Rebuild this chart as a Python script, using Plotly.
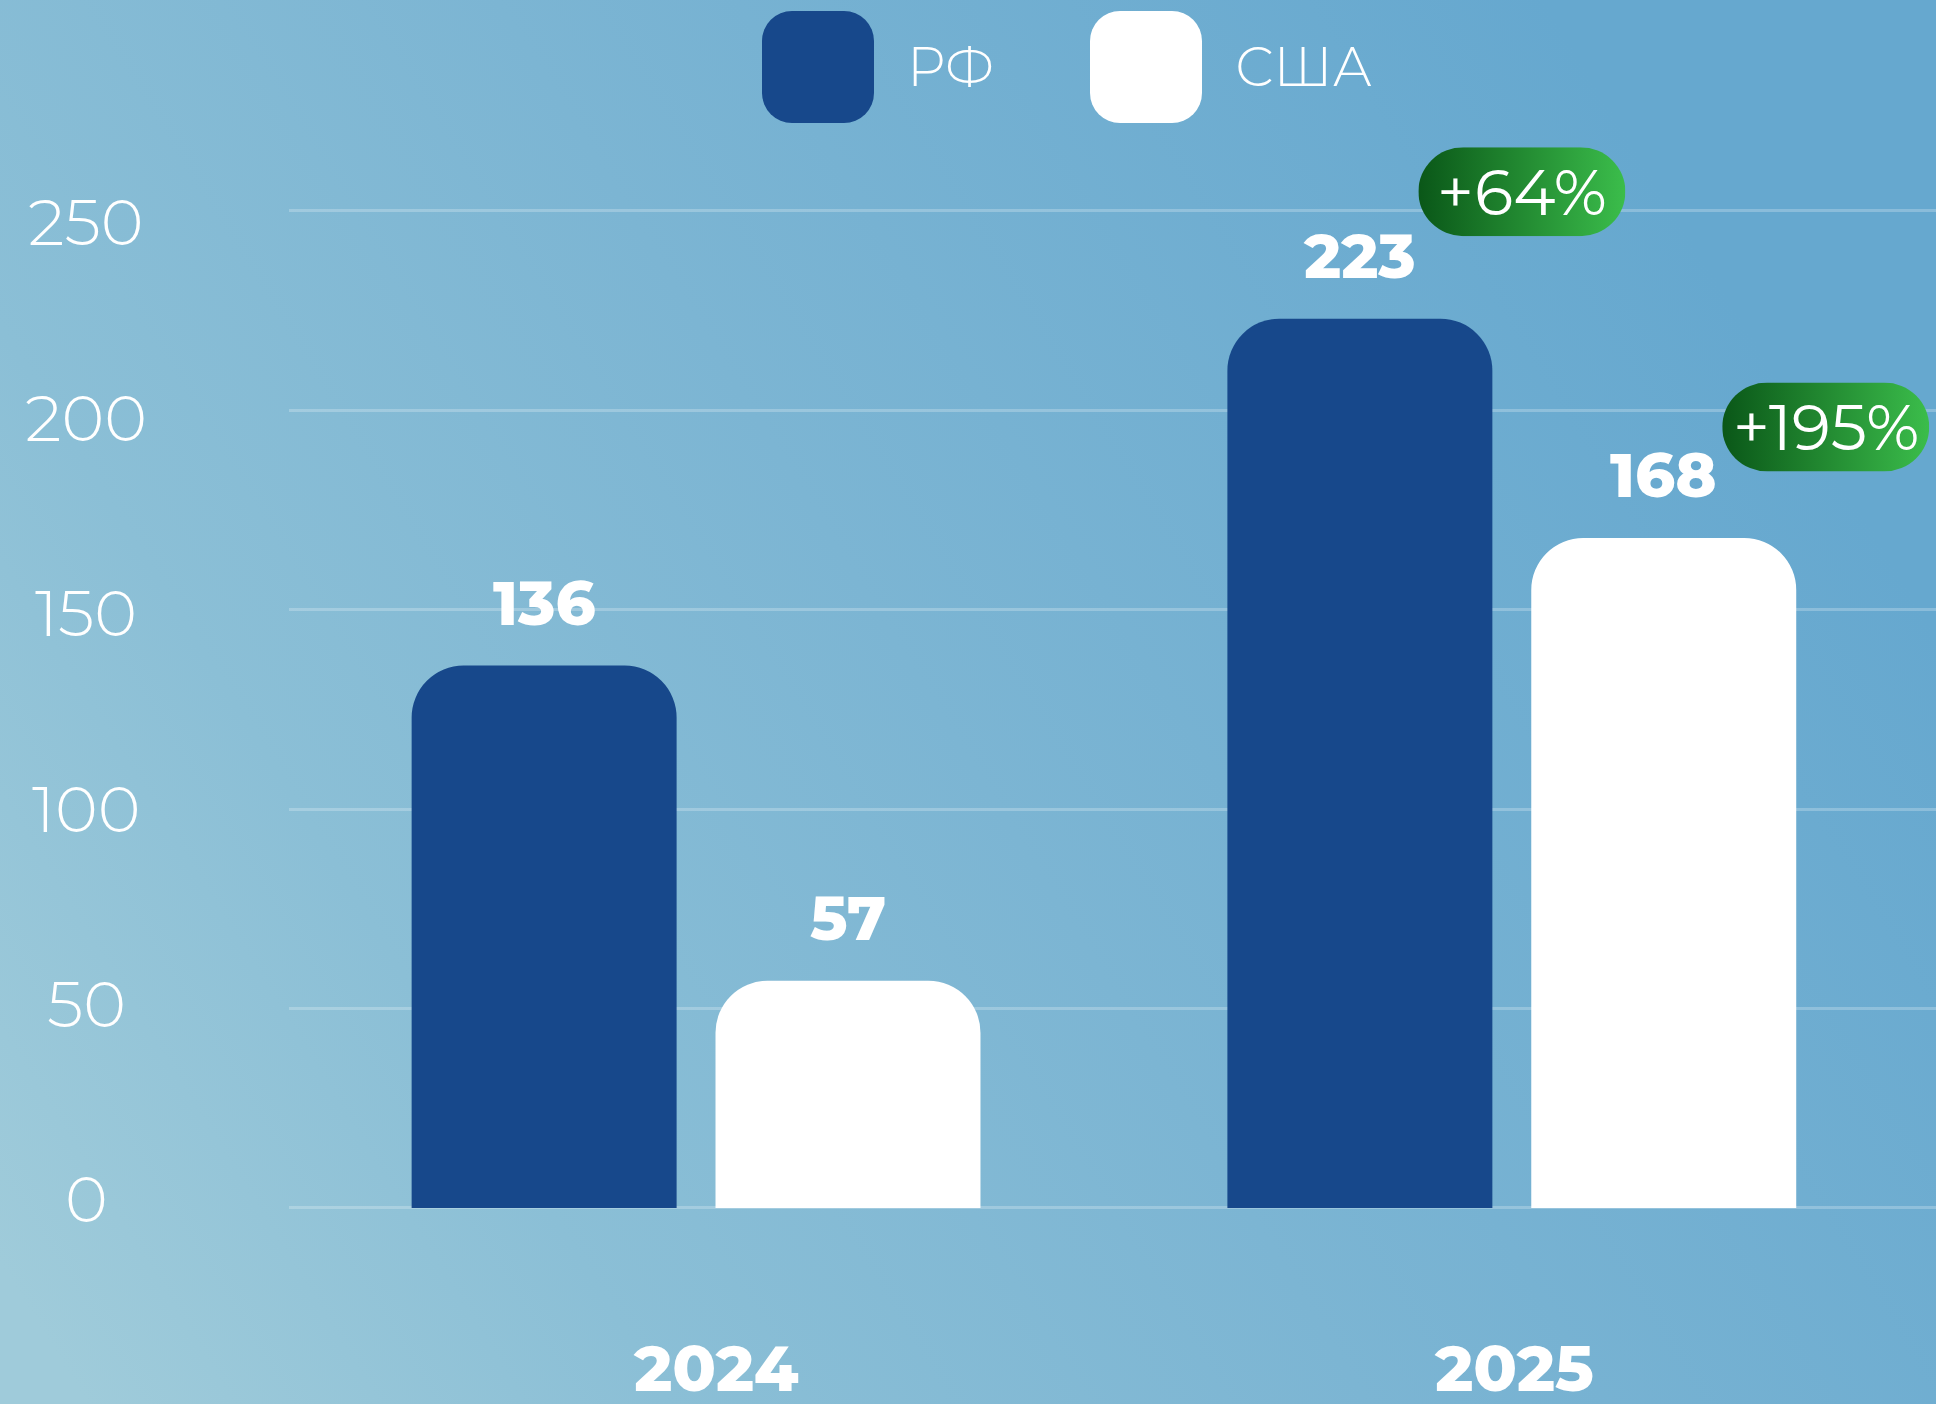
import base64
import plotly.graph_objects as go

# ---- data ----
years = ["2024", "2025"]
rf_values = [136, 223]
usa_values = [57, 168]
series_names = ["РФ", "США"]
y_ticks = [0, 50, 100, 150, 200, 250]
growth_labels = ["+64%", "+195%"]   # 2025 vs 2024, for РФ and США

# ---- style ----
W, H = 1936, 1404
RF_COLOR = "#17488b"
USA_COLOR = "#ffffff"
FONT = "Montserrat, Inter, 'Open Sans', sans-serif"
BARGAP, BARGROUPGAP = 0.255, 0.128
X_RANGE = [-0.499, 1.52]
Y_RANGE = [-49.15, 302.9]
PX_PER_X = (W - 289) / (X_RANGE[1] - X_RANGE[0])
PX_PER_Y = H / (Y_RANGE[1] - Y_RANGE[0])


def svg_uri(svg):
    return "data:image/svg+xml;base64," + base64.b64encode(svg.encode()).decode()


bg_svg = (
    '<svg xmlns="http://www.w3.org/2000/svg" width="1936" height="1404" viewBox="0 0 1936 1404" preserveAspectRatio="none">'
    '<defs><linearGradient id="g" x1="0" y1="0.9" x2="1" y2="0.45">'
    '<stop offset="0" stop-color="#9fcbda"/><stop offset="0.25" stop-color="#8bbfd6"/>'
    '<stop offset="0.55" stop-color="#7cb5d3"/><stop offset="1" stop-color="#66a8cf"/>'
    '</linearGradient></defs>'
    '<rect width="1936" height="1404" fill="url(#g)"/></svg>'
)

pill_svg = (
    '<svg xmlns="http://www.w3.org/2000/svg" width="205" height="89" viewBox="0 0 205 89" preserveAspectRatio="none">'
    '<defs><linearGradient id="p" x1="0" y1="0" x2="1" y2="0">'
    '<stop offset="0" stop-color="#0a5718"/><stop offset="1" stop-color="#3bbd4b"/></linearGradient></defs>'
    '<rect width="205" height="89" rx="44.5" ry="44.5" fill="url(#p)"/></svg>'
)


def swatch_svg(color):
    return (
        '<svg xmlns="http://www.w3.org/2000/svg" width="112" height="112" viewBox="0 0 112 112" preserveAspectRatio="none">'
        f'<rect width="112" height="112" rx="30" ry="30" fill="{color}"/></svg>'
    )


fig = go.Figure()
fig.add_trace(go.Bar(x=years, y=rf_values, name=series_names[0],
                     marker=dict(color=RF_COLOR, cornerradius=52, line=dict(width=0))))
fig.add_trace(go.Bar(x=years, y=usa_values, name=series_names[1],
                     marker=dict(color=USA_COLOR, cornerradius=52, line=dict(width=0))))

annotations = []
images = [dict(source=svg_uri(bg_svg), xref="paper", yref="paper", x=0, y=1,
               sizex=1, sizey=1, sizing="stretch", layer="below", xanchor="left", yanchor="top")]

# y tick labels (centred)
for t in y_ticks:
    annotations.append(dict(x=86 / W, xref="paper", y=t, yref="y", yshift=9 - t * 0.08,
                            text=str(t), showarrow=False, xanchor="center", yanchor="middle",
                            font=dict(family=FONT, size=65, color="white", weight=300)))

# year labels
for i, yr in enumerate(years):
    annotations.append(dict(x=i, xref="x", y=0, yref="y", yshift=-160,
                            xshift=20 if i == 0 else 2, text=yr, showarrow=False,
                            xanchor="center", yanchor="middle",
                            font=dict(family=FONT, size=64, color="white", weight=800)))

# value labels + growth badges
offset = (1 - BARGAP) / 4
for s, vals in enumerate([rf_values, usa_values]):
    xo = -offset if s == 0 else offset
    for i, v in enumerate(vals):
        annotations.append(dict(x=i + xo, xref="x", y=v, yref="y", yshift=63, text=str(v),
                                showarrow=False, xanchor="center", yanchor="middle",
                                font=dict(family=FONT, size=62, color="white", weight=800)))
    # badge on 2025 bar
    bx = 1 + xo + 162 / PX_PER_X
    by = vals[1] + (127 if s == 0 else 111) / PX_PER_Y
    images.append(dict(source=svg_uri(pill_svg), xref="x", yref="y", x=bx, y=by,
                       sizex=207 / PX_PER_X, sizey=89 / PX_PER_Y, sizing="stretch",
                       xanchor="center", yanchor="middle", layer="above"))
    annotations.append(dict(x=bx, xref="x", y=by, yref="y", text=growth_labels[s], showarrow=False,
                            xanchor="center", yanchor="middle",
                            font=dict(family=FONT, size=64, color="white", weight=400)))

# custom legend
for k, (name, col, sx, tx) in enumerate([(series_names[0], RF_COLOR, 762, 905),
                                          (series_names[1], USA_COLOR, 1090, 1233)]):
    images.append(dict(source=svg_uri(swatch_svg(col)), xref="paper", yref="paper",
                       x=sx / W, y=1 - 11 / H, sizex=112 / W, sizey=112 / H, sizing="stretch",
                       xanchor="left", yanchor="top", layer="above"))
    annotations.append(dict(x=tx / W, xref="paper", y=1 - 67 / H, yref="paper", text=name,
                            showarrow=False, xanchor="left", yanchor="middle",
                            font=dict(family=FONT, size=54, color="white", weight=300)))

fig.update_layout(
    width=W, height=H,
    margin=dict(l=0, r=0, t=0, b=0),
    paper_bgcolor="#80b7d3", plot_bgcolor="rgba(0,0,0,0)",
    barmode="group", bargap=BARGAP, bargroupgap=BARGROUPGAP,
    showlegend=False,
    xaxis=dict(domain=[289 / W, 1], range=X_RANGE, showticklabels=False, showgrid=False,
               zeroline=False, showline=False, fixedrange=True),
    yaxis=dict(range=Y_RANGE, tickvals=y_ticks, showticklabels=False, showgrid=True,
               gridcolor="rgba(255,255,255,0.24)", gridwidth=3, zeroline=False, showline=False),
    annotations=annotations,
    images=images,
)

fig.write_html("out.html", config={"displayModeBar": False},
               post_script="document.body.style.margin='0';document.body.style.padding='0';")
